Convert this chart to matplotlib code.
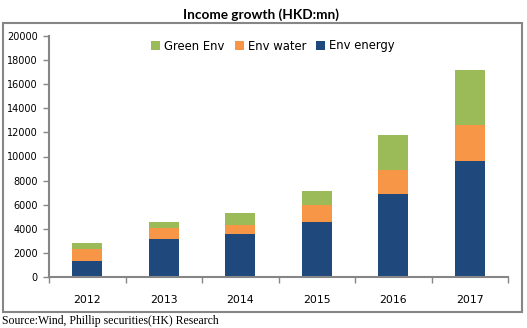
import matplotlib
matplotlib.use("Agg")
import matplotlib.pyplot as plt
from matplotlib.patches import Rectangle
import numpy as np

years = ["2012", "2013", "2014", "2015", "2016", "2017"]
env_energy = [1300, 3150, 3550, 4550, 6850, 9650]
env_water = [1000, 950, 750, 1400, 2000, 3000]
green_env = [500, 450, 1050, 1150, 2900, 4550]

c_blue = "#1F497D"
c_orange = "#F79646"
c_green = "#9BBB59"
gray = "#868686"

fig = plt.figure(figsize=(5.27, 3.28), dpi=100)
ax = fig.add_axes([49/527, 1-277/328, (508-49)/527, (277-36)/328])

x = np.arange(len(years))
w = 0.39
b1 = ax.bar(x, env_energy, w, color=c_blue, label="Env energy")
b2 = ax.bar(x, env_water, w, bottom=env_energy, color=c_orange, label="Env water")
bottom3 = [a + b for a, b in zip(env_energy, env_water)]
b3 = ax.bar(x, green_env, w, bottom=bottom3, color=c_green, label="Green Env")

ax.set_xlim(-0.5, len(years) - 0.5)
ax.set_ylim(0, 20000)
ax.set_yticks(np.arange(0, 20001, 2000))
ax.tick_params(axis="y", labelsize=7, length=4, width=1, color=gray, pad=4, labelcolor="#000000")
ax.set_xticks(x)
ax.set_xticklabels(years)
ax.tick_params(axis="x", which="major", length=0, labelsize=7.8, pad=13)
ax.set_xticks(np.arange(-0.5, len(years), 1.0), minor=True)
ax.tick_params(axis="x", which="minor", length=4, width=1, color=gray, direction="out")

for s in ["top", "right"]:
    ax.spines[s].set_visible(False)
for s in ["left", "bottom"]:
    ax.spines[s].set_color(gray)
    ax.spines[s].set_linewidth(1.5)

leg = ax.legend(handles=[b3, b2, b1], labels=["Green Env", "Env water", "Env energy"],
                loc="center", bbox_to_anchor=((273-49)/459, 1 - (46-36)/241), ncol=3, frameon=False,
                fontsize=8.4, handlelength=0.75, handleheight=0.75, handletextpad=0.35,
                columnspacing=0.9, borderaxespad=0)

fig.text(261/527, 1-14.5/328, "Income growth (HKD:mn)", ha="center", va="center",
         fontsize=9.8, fontweight="bold", family="Lato")

fig.patches.append(Rectangle((3/527, 1-312/328), 519/527, 289/328, transform=fig.transFigure,
                             fill=False, edgecolor=gray, linewidth=1.5))

fig.text(2/527, 1-321/328, "Source:Wind, Phillip securities(HK) Research", ha="left", va="center",
         fontsize=8.5, family="Liberation Serif")

fig.savefig("out.png", dpi=100)
